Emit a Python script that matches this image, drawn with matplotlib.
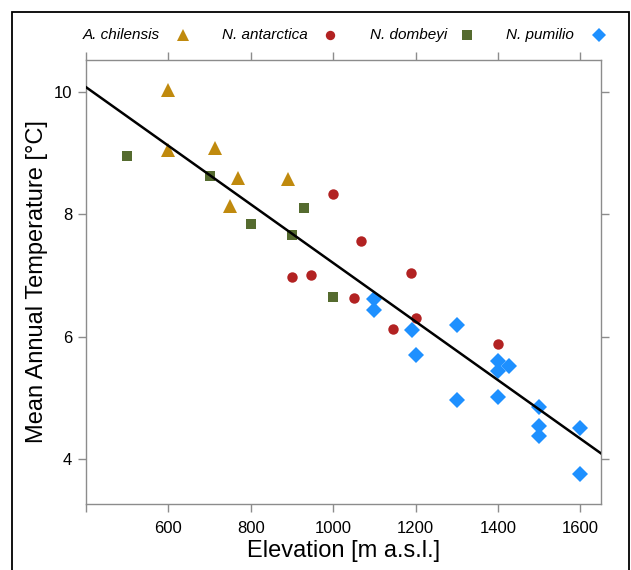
import matplotlib
matplotlib.use("Agg")
import matplotlib.pyplot as plt
from matplotlib.patches import Rectangle

plt.rcParams['font.family'] = ['Liberation Sans', 'DejaVu Sans']

# species labels and styles (lattice-like)
species = ["A. chilensis", "N. antarctica", "N. dombeyi", "N. pumilio"]
colors = ["#C08A0E", "#B22222", "#556B2F", "#1E90FF"]
markers = ["^", "o", "s", "D"]
msizes = [9.5, 7.5, 7.8, 8.3]

# data: elevation [m a.s.l.] and mean annual temperature [°C]
chilensis_elev = [600, 600, 713, 770, 890, 750]
chilensis_temp = [10.03, 9.05, 9.09, 8.60, 8.57, 8.14]

antarctica_elev = [1000, 1068, 900, 946, 1189, 1050, 1200, 1144, 1400]
antarctica_temp = [8.33, 7.56, 6.97, 7.01, 7.04, 6.64, 6.30, 6.12, 5.89]

dombeyi_elev = [500, 700, 928, 800, 900, 1000]
dombeyi_temp = [8.96, 8.62, 8.10, 7.84, 7.67, 6.65]

pumilio_elev = [1100, 1100, 1192, 1300, 1200, 1400, 1400, 1426, 1300, 1400,
                1500, 1500, 1500, 1600, 1600]
pumilio_temp = [6.61, 6.43, 6.11, 6.20, 5.71, 5.61, 5.44, 5.52, 4.97, 5.01,
                4.86, 4.54, 4.38, 4.51, 3.76]

# regression line (intercept, slope)
line_intercept = 11.99
line_slope = -0.004784

x_ticks = [400, 600, 800, 1000, 1200, 1400, 1600]
x_ticklabels = ["", "600", "800", "1000", "1200", "1400", "1600"]
y_ticks = [4, 6, 8, 10]

W, H = 631, 570
fig = plt.figure(figsize=(W / 100, H / 100), dpi=100)
ax = fig.add_axes([86 / W, 1 - 504 / H, (601 - 86) / W, (504 - 60) / H])

xs = [chilensis_elev, antarctica_elev, dombeyi_elev, pumilio_elev]
ys = [chilensis_temp, antarctica_temp, dombeyi_temp, pumilio_temp]
for x, y, c, m, s in zip(xs, ys, colors, markers, msizes):
    ax.plot(x, y, linestyle="none", marker=m, color=c, markersize=s,
            markeredgewidth=0, zorder=2)

xlim = (400, 1650)
ax.set_xlim(*xlim)
ax.set_ylim(3.27, 10.52)
ax.plot(xlim, [line_intercept + line_slope * v for v in xlim],
        color="black", lw=1.8, zorder=3)

gray = "#8c8c8c"
for sp in ax.spines.values():
    sp.set_color(gray)
    sp.set_linewidth(1.0)
ax.set_xticks(x_ticks)
ax.set_xticklabels(x_ticklabels)
ax.set_yticks(y_ticks)
ax.tick_params(axis="both", direction="out", length=6, width=1.0, color=gray,
               labelsize=12, pad=4, top=True, right=True)
ax.tick_params(axis="x", pad=6)

ax.set_xlabel("Elevation [m a.s.l.]", fontsize=17, labelpad=3)
ax.set_ylabel("Mean Annual Temperature [°C]", fontsize=17, labelpad=4)

# legend on top, lattice style: italic text then symbol
text_right = [160, 308, 447, 574]
marker_x = [183, 330, 467, 599]
leg_y = 1 - 35 / H
for name, tx, mx, c, m, s in zip(species, text_right, marker_x, colors, markers, msizes):
    fig.text(tx / W, leg_y, name, ha="right", va="center", fontsize=11, style="italic")
    fig.lines.append(plt.Line2D([mx / W], [leg_y], transform=fig.transFigure,
                                marker=m, color=c, markersize=s * 0.9,
                                markeredgewidth=0, linestyle="none"))

# outer frame
fig.patches.append(Rectangle((12 / W, -0.05), (629 - 12) / W, 1.05 - 12 / H,
                             transform=fig.transFigure, fill=False,
                             edgecolor="black", lw=1.3))

fig.savefig("out.png", dpi=100)
